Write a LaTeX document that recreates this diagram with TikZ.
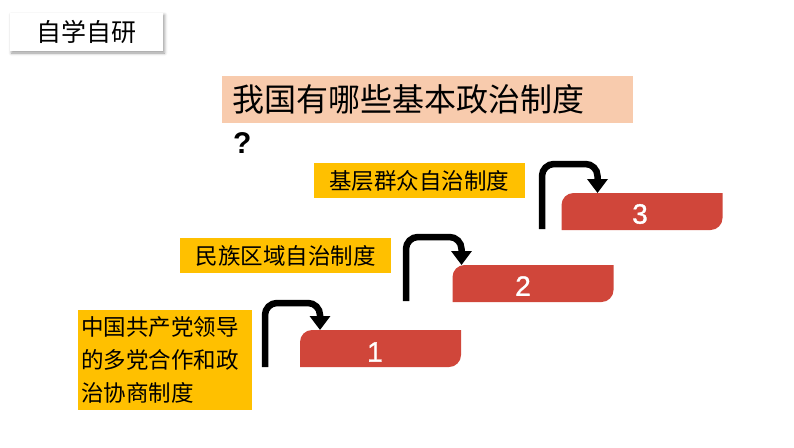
\documentclass[tikz,border=0pt]{standalone}
\usepackage{fontspec}
\setmainfont{Liberation Sans}
\newfontfamily\cjk{Noto Sans CJK SC}
\newfontfamily\numfont[FakeBold=1.2]{Liberation Sans}
\usetikzlibrary{arrows.meta,shadows.blur,backgrounds}
\definecolor{peach}{HTML}{F8CBAD}
\definecolor{gold}{HTML}{FFC000}
\definecolor{barred}{HTML}{D0463A}
\newcommand\redbar[1]{\fill[barred] (#1.south west) -- ([yshift=-12pt]#1.north west) arc[start angle=180,end angle=90,radius=12pt] -- (#1.north east) -- ([yshift=12pt]#1.south east) arc[start angle=0,end angle=-90,radius=12pt] -- cycle;}
\begin{document}
\begin{tikzpicture}[x=1pt,y=1pt,
  ybox/.style={fill=gold, inner sep=0pt, font=\cjk\fontsize{22.5}{33}\selectfont},
  barnode/.style={minimum width=161pt, minimum height=37pt, inner sep=0pt, outer sep=0pt},
  num/.style={text=white, inner sep=0pt, font=\numfont\fontsize{28}{30}\selectfont},
  bentarrow/.style={line width=6.5pt, rounded corners=12pt, -{Triangle[width=20pt,length=14pt]}}]
\useasboundingbox (0,0) rectangle (794,-447);

% title tab
\node[fill=white, minimum width=153pt, minimum height=38pt, inner sep=0pt,
  blur shadow={shadow xshift=1.5pt, shadow yshift=-2pt, shadow blur radius=3pt},
  font=\cjk\fontsize{25}{28}\selectfont] (tab) at (86.5,-32) {自学自研};

% question
\node[fill=peach, anchor=west, minimum width=411pt, minimum height=47pt,
  text width=391pt, inner xsep=10pt, inner ysep=0pt, align=left,
  font=\cjk\fontsize{32}{36}\selectfont] (q) at (222,-99.5) {我国有哪些基本政治制度};
\node[anchor=base west, inner sep=0pt, font=\bfseries\fontsize{30}{34}\selectfont] (qm) at (233,-153) {?};

% yellow boxes
\node[ybox, minimum width=211pt, minimum height=35pt] (y3) at (419,-180.5) {基层群众自治制度};
\node[ybox, minimum width=211pt, minimum height=35pt] (y2) at (285.5,-255.5) {民族区域自治制度};
\node[ybox, minimum width=174pt, minimum height=100pt, text width=168pt, inner xsep=3pt, align=left] (y1) at (165,-360)
  {中国共产党领导\\的多党合作和政\\治协商制度};

% red bars
\node[barnode] (bar1) at (380.5,-348.5) {};
\node[barnode] (bar2) at (533,-283.5) {};
\node[barnode] (bar3) at (642,-211.5) {};
\redbar{bar1}
\redbar{bar2}
\redbar{bar3}
\node[num] (n1) at (375,-352) {1};
\node[num] (n2) at (523,-286) {2};
\node[num] (n3) at (640,-214) {3};

% bent arrows
\coordinate (s1) at (265,-367);
\coordinate (t1) at ([xshift=20pt]bar1.north west);
\coordinate (s2) at (406,-301);
\coordinate (t2) at ([xshift=9pt]bar2.north west);
\coordinate (s3) at (542,-229);
\coordinate (t3) at ([xshift=36pt]bar3.north west);
\draw[bentarrow] (s1) |- ([yshift=27pt]t1) -- (t1);
\draw[bentarrow] (s2) |- ([yshift=28pt]t2) -- (t2);
\draw[bentarrow] (s3) |- ([yshift=29pt]t3) -- (t3);
\end{tikzpicture}
\end{document}
